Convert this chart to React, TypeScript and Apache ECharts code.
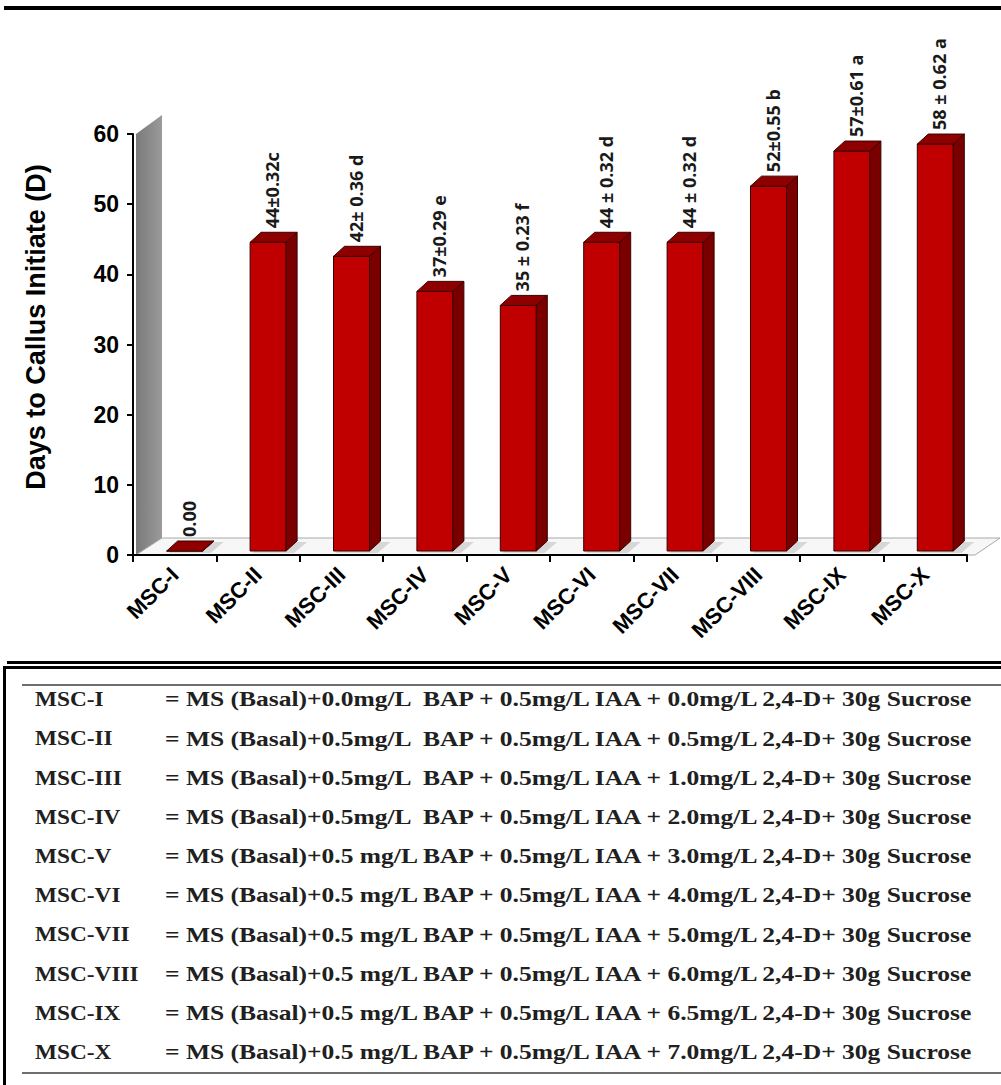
import React, { useEffect, useRef } from "react";
import * as echarts from "echarts";

const categories = ["MSC-I", "MSC-II", "MSC-III", "MSC-IV", "MSC-V", "MSC-VI", "MSC-VII", "MSC-VIII", "MSC-IX", "MSC-X"];
const values = [0, 44, 42, 37, 35, 44, 44, 52, 57, 58];
const barLabels = ["0.00", "44±0.32c", "42± 0.36 d", "37±0.29 e", "35 ± 0.23 f", "44 ± 0.32 d", "44 ± 0.32 d", "52±0.55 b", "57±0.61 a", "58 ± 0.62 a"];
const yTicks = [0, 10, 20, 30, 40, 50, 60];
const tableNames = ["MSC-I", "MSC-II", "MSC-III", "MSC-IV", "MSC-V", "MSC-VI", "MSC-VII", "MSC-VIII", "MSC-IX", "MSC-X"];
const tableFormulas = [
  "= MS (Basal)+0.0mg/L  BAP + 0.5mg/L IAA + 0.0mg/L 2,4-D+ 30g Sucrose",
  "= MS (Basal)+0.5mg/L  BAP + 0.5mg/L IAA + 0.5mg/L 2,4-D+ 30g Sucrose",
  "= MS (Basal)+0.5mg/L  BAP + 0.5mg/L IAA + 1.0mg/L 2,4-D+ 30g Sucrose",
  "= MS (Basal)+0.5mg/L  BAP + 0.5mg/L IAA + 2.0mg/L 2,4-D+ 30g Sucrose",
  "= MS (Basal)+0.5 mg/L BAP + 0.5mg/L IAA + 3.0mg/L 2,4-D+ 30g Sucrose",
  "= MS (Basal)+0.5 mg/L BAP + 0.5mg/L IAA + 4.0mg/L 2,4-D+ 30g Sucrose",
  "= MS (Basal)+0.5 mg/L BAP + 0.5mg/L IAA + 5.0mg/L 2,4-D+ 30g Sucrose",
  "= MS (Basal)+0.5 mg/L BAP + 0.5mg/L IAA + 6.0mg/L 2,4-D+ 30g Sucrose",
  "= MS (Basal)+0.5 mg/L BAP + 0.5mg/L IAA + 6.5mg/L 2,4-D+ 30g Sucrose",
  "= MS (Basal)+0.5 mg/L BAP + 0.5mg/L IAA + 7.0mg/L 2,4-D+ 30g Sucrose",
];

const W = 1001;
const H = 1085;
const GL = 133;
const GT = 134;
const GR = 967;
const GB = 555;
const DX = 11;
const DY = 10;
const BW = 36;

export default function App() {
  const ref = useRef<HTMLDivElement>(null);
  useEffect(() => {
    if (!ref.current) return;
    const chart = echarts.init(ref.current, null, { renderer: "svg" });

    const graphics: any[] = [
      { type: "rect", shape: { x: 4, y: 6, width: W - 4, height: 4 }, style: { fill: "#000" } },
      {
        type: "polygon",
        z: 0,
        shape: { points: [[GL + 3, GB], [GL + 3, GT], [GL + 29, GT - 19], [GL + 29, GB - 17]] },
        style: {
          fill: new echarts.graphic.LinearGradient(0, 0, 1, 0, [
            { offset: 0, color: "#7a7a7a" },
            { offset: 1, color: "#9a9a9a" },
          ]),
        },
      },
      {
        type: "polygon",
        z: 0,
        shape: { points: [[GL + 3, GB], [GL + 29, GB - 17], [W - 1, GB - 17], [GR + 8, GB]] },
        style: { fill: "#f7f7f7", stroke: "#a8a8a8", lineWidth: 1 },
      },
      { type: "rect", shape: { x: 7, y: 661, width: W - 7, height: 3 }, style: { fill: "#000" } },
      { type: "rect", shape: { x: 3, y: 666, width: W - 3, height: 3 }, style: { fill: "#000" } },
      { type: "rect", shape: { x: 3, y: 666, width: 3, height: H - 666 }, style: { fill: "#000" } },
      { type: "rect", shape: { x: 22, y: 684, width: W - 22, height: 2 }, style: { fill: "#6e6e6e" } },
      { type: "rect", shape: { x: 22, y: 1072, width: W - 22, height: 2 }, style: { fill: "#6e6e6e" } },
      {
        type: "text",
        x: 36,
        y: 327,
        rotation: Math.PI / 2,
        style: {
          text: "Days to Callus Initiate (D)",
          fontFamily: "Arial, Liberation Sans",
          fontWeight: "bold",
          fontSize: 27,
          fill: "#000",
          align: "center",
          verticalAlign: "middle",
        },
      },
    ];
    tableNames.forEach((n, i) => {
      const y = 699 + i * 39.2;
      graphics.push({
        type: "text",
        x: 35,
        y,
        scaleX: 1.06,
        style: { text: n, fontFamily: "Liberation Serif, Times New Roman", fontWeight: "bold", fontSize: 22, fill: "#202020", verticalAlign: "middle" },
      });
      graphics.push({
        type: "text",
        x: 165,
        y,
        scaleX: 1.16,
        style: { text: tableFormulas[i], fontFamily: "Liberation Serif, Times New Roman", fontWeight: "bold", fontSize: 22, fill: "#202020", verticalAlign: "middle" },
      });
    });

    chart.setOption({
      animation: false,
      backgroundColor: "#fff",
      grid: { left: GL, top: GT, right: W - GR, bottom: H - GB, containLabel: false },
      xAxis: {
        type: "category",
        data: categories,
        boundaryGap: true,
        axisLine: { show: true, lineStyle: { color: "#000", width: 2 } },
        axisTick: { show: true, length: 7, lineStyle: { color: "#000", width: 2 } },
        axisLabel: {
          interval: 0,
          rotate: 45,
          margin: 16,
          color: "#000",
          fontFamily: "Arial, Liberation Sans",
          fontWeight: "bold",
          fontSize: 22,
        },
        splitLine: { show: false },
      },
      yAxis: {
        type: "value",
        min: yTicks[0],
        max: yTicks[yTicks.length - 1],
        interval: 10,
        axisLine: { show: true, lineStyle: { color: "#000", width: 2 } },
        axisTick: { show: true, length: 6, lineStyle: { color: "#000", width: 2 } },
        axisLabel: { color: "#000", fontFamily: "Arial, Liberation Sans", fontWeight: "bold", fontSize: 23, margin: 14 },
        splitLine: { show: false },
      },
      graphic: graphics,
      series: [
        {
          type: "custom",
          z: 5,
          data: values.map((v, i) => [i, v]),
          renderItem: (params: any, api: any) => {
            const i = api.value(0);
            const v = api.value(1);
            const top = api.coord([i, v]);
            const base = api.coord([i, 0]);
            const x0 = top[0] - 8;
            const yT = top[1] - 4;
            const yB = base[1] - 4;
            const stroke = "#3a0000";
            return {
              type: "group",
              children: [
                {
                  type: "polygon",
                  shape: { points: [[x0 + 2, yB + 2], [x0 + BW + 8, yB + 2], [x0 + BW + DX + 10, yB - DY + 1], [x0 + DX + 4, yB - DY + 1]] },
                  style: { fill: "rgba(120,120,120,0.25)" },
                },
                {
                  type: "rect",
                  shape: { x: x0, y: yT, width: BW, height: yB - yT },
                  style: { fill: "#c00000", stroke, lineWidth: 1 },
                },
                {
                  type: "polygon",
                  shape: { points: [[x0 + BW, yT], [x0 + BW + DX, yT - DY], [x0 + BW + DX, yB - DY], [x0 + BW, yB]] },
                  style: { fill: "#7a0000", stroke, lineWidth: 1 },
                },
                {
                  type: "polygon",
                  shape: { points: [[x0, yT], [x0 + BW, yT], [x0 + BW + DX, yT - DY], [x0 + DX, yT - DY]] },
                  style: { fill: "#8e0000", stroke, lineWidth: 1 },
                },
                {
                  type: "text",
                  x: x0 + 22,
                  y: yT - DY - 4,
                  rotation: Math.PI / 2,
                  style: {
                    text: barLabels[i],
                    fontFamily: "Open Sans, DejaVu Sans",
                    fontWeight: "bold",
                    fontSize: 18,
                    fill: "#1a1a1a",
                    align: "left",
                    verticalAlign: "middle",
                  },
                },
              ],
            };
          },
        },
      ],
    });
    return () => chart.dispose();
  }, []);
  return <div ref={ref} style={{ position: "fixed", left: 0, top: 0, width: W, height: H }} />;
}
